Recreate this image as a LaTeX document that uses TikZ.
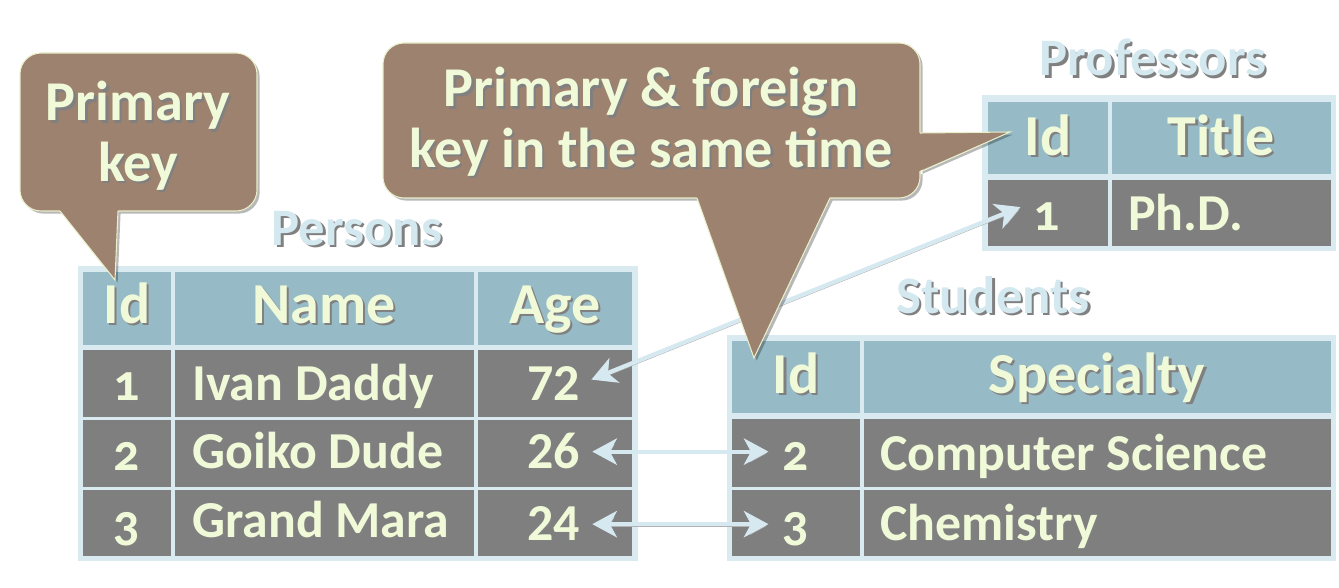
\documentclass[tikz,border=0pt]{standalone}
\usepackage{fontspec}
\setmainfont{Carlito}
\newfontfamily\oldnums{Carlito}[Numbers=OldStyle]
\usetikzlibrary{arrows.meta}

\definecolor{framecol}{HTML}{D9EBF1}
\definecolor{headcol}{HTML}{97BBC6}
\definecolor{datacol}{HTML}{7F7F7F}
\definecolor{celltext}{HTML}{F0FAD8}
\definecolor{titlecol}{HTML}{D4E8EF}
\definecolor{notefill}{HTML}{9D8270}
\definecolor{noteline}{HTML}{E9EFC9}
\definecolor{linkcol}{HTML}{D6E9F0}

% text with a small drop shadow
\newcommand\shd[1]{\makebox[0pt][l]{\hspace{1.3pt}\raisebox{-1.3pt}{\color{black!50}#1}}#1}

\begin{document}
\begin{tikzpicture}[
    x=0.02cm, y=-0.02cm,
    >={Stealth[length=14pt,width=15pt,inset=4pt]},
    every node/.style={font=\bfseries\fontsize{29.5}{32}\selectfont, text=celltext, inner sep=0pt},
    frame/.style={fill=framecol},
    headcell/.style={fill=headcol},
    datacell/.style={fill=datacol},
    celltxt/.style={anchor=base},
    celltxtl/.style={anchor=base west},
    celltxtr/.style={anchor=base east},
    headtxt/.style={anchor=base, font=\bfseries\fontsize{33}{36}\selectfont},
    tabtitle/.style={anchor=base, text=titlecol, font=\bfseries\fontsize{30}{33}\selectfont},
    notetxt/.style={align=center, font=\bfseries\fontsize{32}{34.5}\selectfont},
    notebody/.style={fill=notefill, draw=noteline, line width=0.6pt, rounded corners=12pt},
    notetip/.style={fill=notefill},
    notetipedge/.style={draw=noteline, line width=0.6pt},
    noteshade/.style={fill=black, opacity=0.28},
    link/.style={<->, draw=linkcol, line width=2.4pt,
        preaction={draw=black!30, transform canvas={shift={(1pt,-1pt)}}}}
]
\useasboundingbox (0,0) rectangle (1339,588);

% ==================== Persons ====================
\node[tabtitle] (pers-title) at (357,245) {\shd{Persons}};
\fill[frame] (78,266) rectangle (638,561);
\foreach \xa/\xb in {83/171,175/474,478/632} {
  \fill[headcell] (\xa,272) rectangle (\xb,345);
  \foreach \ya/\yb in {350/417,420/487,490/556}
    \fill[datacell] (\xa,\ya) rectangle (\xb,\yb);
}
\node[headtxt]  (pers-id)    at (127,323) {\shd{Id}};
\node[headtxt]  (pers-name)  at (324,323) {\shd{Name}};
\node[headtxt]  (pers-age)   at (555,323) {\shd{Age}};
\node[celltxt]  (pers-id1)   at (127,400) {\shd{\oldnums 1}};
\node[celltxtl] (pers-name1) at (192,400) {\shd{Ivan Daddy}};
\node[celltxtr] (pers-age1)  at (580,400) {\shd{72}};
\node[celltxt]  (pers-id2)   at (127,470) {\shd{\oldnums 2}};
\node[celltxtl] (pers-name2) at (192,468) {\shd{Goiko Dude}};
\node[celltxtr] (pers-age2)  at (580,468) {\shd{26}};
\node[celltxt]  (pers-id3)   at (127,540) {\shd{\oldnums 3}};
\node[celltxtl] (pers-name3) at (192,537) {\shd{Grand Mara}};
\node[celltxtr] (pers-age3)  at (580,540) {\shd{24}};

% ==================== Professors ====================
\node[tabtitle] (prof-title) at (1153,76) {\shd{Professors}};
\fill[frame] (982,95) rectangle (1336,251);
\foreach \xa/\xb in {988/1108,1112/1331} {
  \fill[headcell] (\xa,102) rectangle (\xb,174);
  \fill[datacell] (\xa,180) rectangle (\xb,246);
}
\node[headtxt]  (prof-id)     at (1048,155) {\shd{Id}};
\node[headtxt]  (prof-head)   at (1221,155) {\shd{Title}};
\node[celltxt]  (prof-id1)    at (1047,230) {\shd{\oldnums 1}};
\node[celltxtl] (prof-title1) at (1128,230) {\shd{Ph.D.}};

% ==================== Students ====================
\node[tabtitle] (stud-title) at (993,313) {\shd{Students}};
\fill[frame] (727,335) rectangle (1336,561);
\foreach \xa/\xb in {732/860,864/1331} {
  \fill[headcell] (\xa,341) rectangle (\xb,413);
  \foreach \ya/\yb in {419/487,490/556}
    \fill[datacell] (\xa,\ya) rectangle (\xb,\yb);
}
\node[headtxt]  (stud-id)    at (796,393)  {\shd{Id}};
\node[headtxt]  (stud-spec)  at (1097,393) {\shd{Specialty}};
\node[celltxt]  (stud-id2)   at (796,470)  {\shd{\oldnums 2}};
\node[celltxtl] (stud-spec2) at (880,470)  {\shd{Computer Science}};
\node[celltxt]  (stud-id3)   at (796,540)  {\shd{\oldnums 3}};
\node[celltxtl] (stud-spec3) at (880,540)  {\shd{Chemistry}};

% links between the keys
\draw[link, shorten <=7pt, shorten >=8pt] (pers-age1.east) -- (prof-id1.north west);
\draw[link, shorten <=7pt, shorten >=8pt] (pers-age2.east) -- (pers-age2.east -| stud-id2.west);
\draw[link, shorten <=7pt, shorten >=8pt] (pers-age3.east) -- (pers-age3.east -| stud-id3.west);

% ==================== Callout: primary key ====================
\begin{scope}[transform canvas={shift={(1.5pt,-1.5pt)}}]
  \fill[noteshade, rounded corners=12pt] (20,53) rectangle (257,211)
    [sharp corners] (58,209) -- (115,280) -- (118,209) -- cycle;
\end{scope}
\path[notebody] (20,53) rectangle (257,211);
\fill[notetip] (58,208) -- (115,280) -- (118,208) -- cycle;
\draw[notetipedge] (60,211) -- (115,280) -- (118,211);
\node[notetxt] (pk-note) at (138,137) {\shd{Primary}\\\shd{key}};

% ==================== Callout: primary & foreign key ====================
\begin{scope}[transform canvas={shift={(1.5pt,-1.5pt)}}]
  \fill[noteshade, rounded corners=12pt] (383,43) rectangle (920,198)
    [sharp corners] (918,133) -- (1010,132) -- (918,172) -- cycle
    (696,196) -- (754,358) -- (831,196) -- cycle;
\end{scope}
\path[notebody] (383,43) rectangle (920,198);
\fill[notetip] (917,133) -- (1010,132) -- (917,172) -- cycle;
\fill[notetip] (696,195) -- (754,358) -- (831,195) -- cycle;
\draw[notetipedge] (920,133) -- (1010,132) -- (920,172);
\draw[notetipedge] (697,198) -- (754,358) -- (830,198);
\node[notetxt] (pfk-note) at (651,123) {\shd{Primary \& foreign}\\\shd{key in the same time}};

\end{tikzpicture}
\end{document}
